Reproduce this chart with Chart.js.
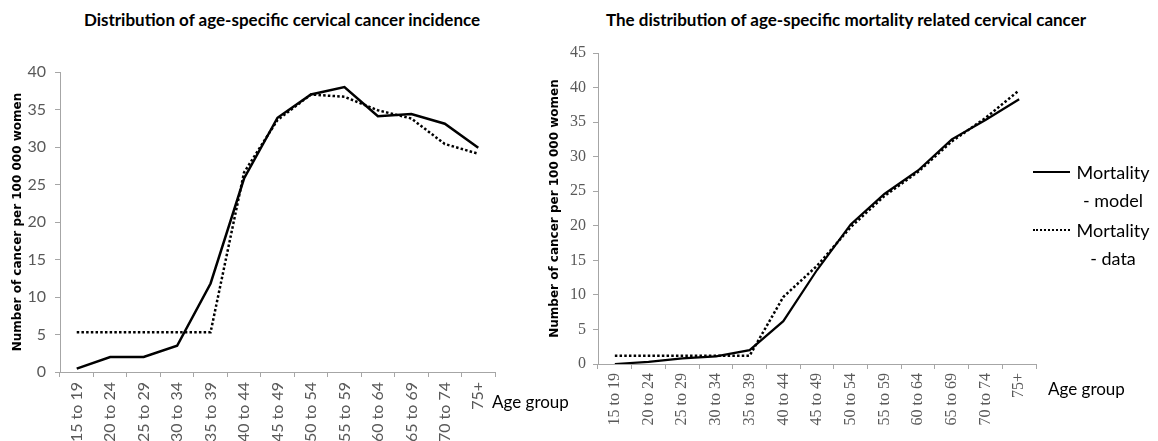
<!DOCTYPE html>
<html>
<head>
<meta charset="utf-8">
<script src="https://cdn.jsdelivr.net/npm/chart.js@4.4.1/dist/chart.umd.min.js"></script>
<style>
  html, body { margin: 0; padding: 0; background: #fff; }
  body { width: 1158px; height: 441px; position: relative; overflow: hidden; font-family: Lato, "Open Sans", sans-serif; }
  .box { position: absolute; top: 0; height: 441px; }
  .title { position: absolute; top: 9px; transform: translateX(-50%); white-space: nowrap; font-weight: bold; font-size: 17px; line-height: 22px; color: #000; }
  .axisname { position: absolute; font-size: 17px; color: #000; white-space: nowrap; line-height: 1; }
  .legend { position: absolute; left: 1030px; top: 158px; width: 128px; font-size: 18px; color: #000; }
  .legend .item { position: relative; height: 58px; }
  .legend .sample { position: absolute; left: 3px; top: 13px; width: 37px; height: 0; }
  .legend .txt { position: absolute; left: 40px; width: 86px; text-align: center; line-height: 28px; }
</style>
</head>
<body>
<div class="title" style="left:282px">Distribution of age-specific cervical cancer incidence</div>
<div class="title" style="left:846px">The distribution of age-specific mortality related cervical cancer</div>

<div class="box" style="left:0;width:580px"><canvas id="incChart"></canvas></div>
<div class="box" style="left:520px;width:638px"><canvas id="mortChart"></canvas></div>

<div class="axisname" style="left:492px;top:393px">Age group</div>
<div class="axisname" style="left:1048px;top:380px">Age group</div>

<div class="legend">
  <div class="item">
    <div class="sample" style="border-top:2.5px solid #000"></div>
    <div class="txt">Mortality<br>- model</div>
  </div>
  <div class="item">
    <div class="sample" style="border-top:2.5px dotted #000"></div>
    <div class="txt">Mortality<br>- data</div>
  </div>
</div>

<script>
// Datos
const ageGroups = ['15 to 19', '20 to 24', '25 to 29', '30 to 34', '35 to 39', '40 to 44', '45 to 49',
                   '50 to 54', '55 to 59', '60 to 64', '65 to 69', '70 to 74', '75+'];

const incidenceModel = [0.45, 2.0, 2.0, 3.5, 11.8, 25.8, 33.9, 37.0, 38.0, 34.1, 34.4, 33.1, 29.9];
const incidenceData  = [5.3, 5.3, 5.3, 5.3, 5.3, 26.6, 33.6, 37.0, 36.7, 34.9, 33.8, 30.4, 29.1];

const mortalityModel = [0.0, 0.3, 0.8, 1.1, 2.0, 6.2, 13.6, 20.2, 24.6, 28.0, 32.5, 35.3, 38.3];
const mortalityData  = [1.2, 1.2, 1.2, 1.2, 1.2, 9.7, 14.2, 19.8, 24.3, 27.8, 32.2, 35.6, 39.6];

const incidenceTicks = [0, 5, 10, 15, 20, 25, 30, 35, 40];
const mortalityTicks = [0, 5, 10, 15, 20, 25, 30, 35, 40, 45];

const yTitle = 'Number of cancer per 100 000 women';
const axisGray = '#a6a6a6';
const labelGray = '#595959';
const serifFamily = "'Liberation Serif', 'Times New Roman', serif";

// Construye una gráfica de líneas con el estilo del original
function buildChart(canvasId, cfg) {
    const ctx = document.getElementById(canvasId).getContext('2d');
    return new Chart(ctx, {
        type: 'line',
        data: {
            labels: ageGroups,
            datasets: [{
                label: cfg.names[0],
                data: cfg.model,
                borderColor: '#000',
                borderWidth: cfg.lineWidth,
                pointRadius: 0,
                tension: 0,
                order: 1
            }, {
                label: cfg.names[1],
                data: cfg.data,
                borderColor: '#000',
                borderWidth: 2.5,
                borderDash: [2.5, 2.2],
                pointRadius: 0,
                tension: 0,
                order: 2
            }]
        },
        options: {
            responsive: false,
            animation: false,
            layout: { padding: { top: cfg.top, right: cfg.right, left: 0, bottom: 0 } },
            plugins: {
                legend: { display: false },
                tooltip: { enabled: false }
            },
            scales: {
                x: {
                    offset: true,
                    grid: { offset: true, drawOnChartArea: false, tickLength: 5, color: axisGray },
                    border: { color: axisGray },
                    ticks: {
                        autoSkip: false, minRotation: 90, maxRotation: 90, padding: cfg.xPad,
                        color: labelGray, font: cfg.xFont
                    },
                    afterFit: s => { s.height = cfg.xHeight; }
                },
                y: {
                    min: 0,
                    max: cfg.ticks[cfg.ticks.length - 1],
                    afterBuildTicks: s => { s.ticks = cfg.ticks.map(v => ({ value: v })); },
                    grid: { drawOnChartArea: false, tickLength: 5, color: axisGray },
                    border: { color: axisGray },
                    ticks: { padding: cfg.yPad, color: labelGray, font: cfg.yFont },
                    title: {
                        display: true,
                        text: yTitle,
                        color: '#000',
                        font: { family: 'DejaVu Sans', size: 12, weight: 'bold' },
                        padding: { top: cfg.titlePad, bottom: 0 }
                    },
                    afterFit: s => { s.width = cfg.yWidth; }
                }
            }
        }
    });
}

function initCharts() {
    const incCanvas = document.getElementById('incChart');
    incCanvas.width = 580; incCanvas.height = 441;
    const mortCanvas = document.getElementById('mortChart');
    mortCanvas.width = 638; mortCanvas.height = 441;

    buildChart('incChart', {
        names: ['Incidence - model', 'Incidence - data'],
        model: incidenceModel,
        data: incidenceData,
        ticks: incidenceTicks,
        lineWidth: 2.5,
        top: 72, right: 85,
        yWidth: 60, xHeight: 69,
        xPad: 5, yPad: 9, titlePad: 11,
        xFont: { family: 'Lato', size: 16 },
        yFont: { family: 'Lato', size: 16 }
    });

    buildChart('mortChart', {
        names: ['Mortality - model', 'Mortality - data'],
        model: mortalityModel,
        data: mortalityData,
        ticks: mortalityTicks,
        lineWidth: 2.2,
        top: 53, right: 122,
        yWidth: 78, xHeight: 77,
        xPad: 4, yPad: 7, titlePad: 28,
        xFont: { family: serifFamily, size: 16 },
        yFont: { family: serifFamily, size: 16 }
    });
}

document.addEventListener('DOMContentLoaded', initCharts);
</script>
</body>
</html>
